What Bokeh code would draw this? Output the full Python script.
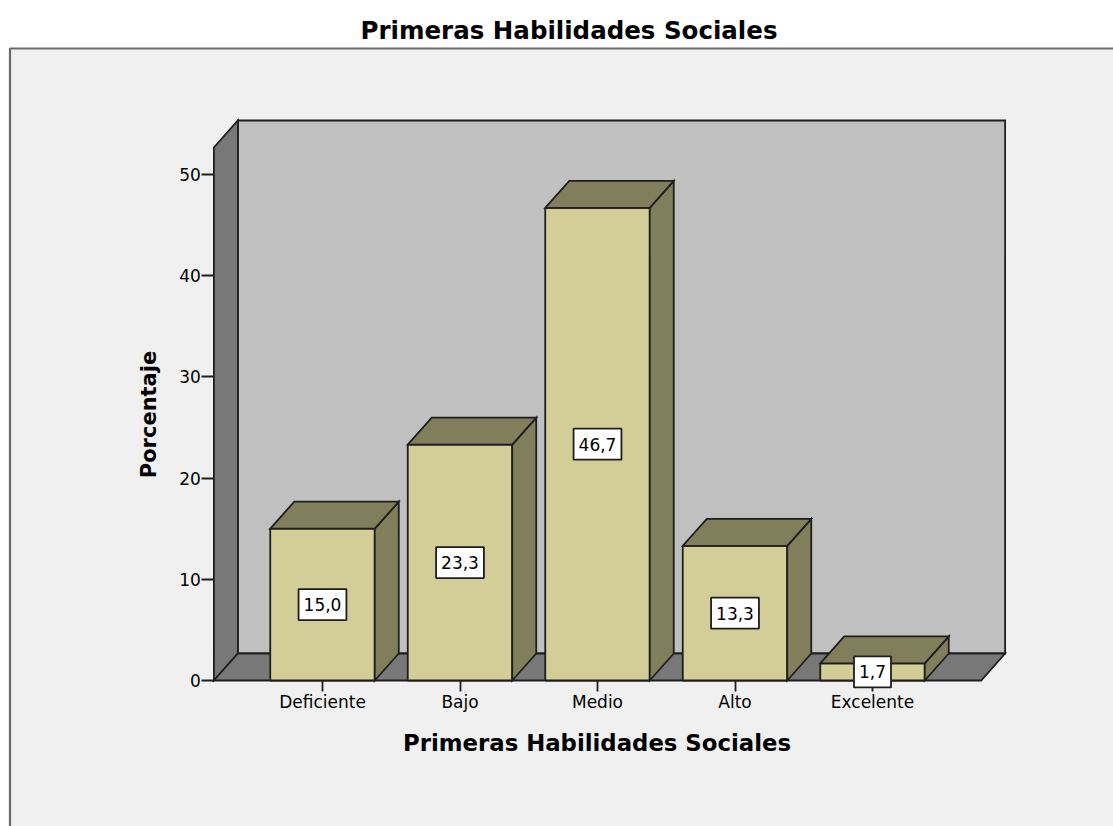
import numpy as np
from bokeh.plotting import figure
from bokeh.models import Range1d, FixedTicker, Label, BoxAnnotation
from bokeh.embed import file_html
from bokeh.resources import INLINE

# ---------------- data ----------------
categories = ["Deficiente", "Bajo", "Medio", "Alto", "Excelente"]
percent = [15.0, 23.3, 46.7, 13.3, 1.7]
y_ticks = [0, 10, 20, 30, 40, 50]
chart_title = "Primeras Habilidades Sociales"
x_title = "Primeras Habilidades Sociales"
y_title = "Porcentaje"

# ---------------- style / layout ----------------
W, H = 1113, 826
FRAME_L, FRAME_B = 0, 0      # space taken by axis panels (if any)
X0_PX, Y0_PX = 322, 680      # page position of first category / zero
SX = 137.5                   # px per category step
SY = 10.12                   # px per percent unit
DEPTH_PX = (24, 27)          # 3D depth offset in px
BAR_W = 0.76
X_PAD = 0.79
Y_AXIS_TOP = 52.67
FONT = "DejaVu Sans"
FRONT = "#d3ce97"
SHADE = "#817f5b"
BACK = "#c0c0c0"
WALL = "#787878"
EDGE = "#1e1e1e"
PANEL = "#f0f0f0"
LW = 1.8

dx = DEPTH_PX[0] / SX
dy = DEPTH_PX[1] / SY
n = len(categories)
xs = list(range(n))
x_left = -X_PAD
x_right = (n - 1) + X_PAD

frame_w = W - FRAME_L
frame_h = H - FRAME_B
x0 = (FRAME_L - X0_PX) / SX
x1 = (W - X0_PX) / SX
y0 = -((H - FRAME_B) - Y0_PX) / SY
y1 = Y0_PX / SY


def sx(px):
    return px - FRAME_L


def sy(py):
    return (H - FRAME_B) - py


p = figure(frame_width=frame_w, frame_height=frame_h,
           x_range=Range1d(x0, x1), y_range=Range1d(y0, y1),
           output_backend="svg", toolbar_location=None,
           min_border_left=FRAME_L, min_border_top=0,
           min_border_right=0, min_border_bottom=FRAME_B)
p.background_fill_color = "white"
p.border_fill_color = PANEL
p.outline_line_color = None
p.xgrid.visible = False
p.ygrid.visible = False

# chart panel (grey box with border)
panel = BoxAnnotation(left=sx(9.5), right=sx(W + 50),
                      top=sy(48), bottom=sy(H + 50),
                      left_units="screen", right_units="screen",
                      top_units="screen", bottom_units="screen",
                      fill_color=PANEL, fill_alpha=1.0,
                      line_color="#6a6a6a", line_alpha=1.0, line_width=2.2,
                      level="underlay")
p.add_layout(panel)

# walls and floor
wall_xs = [
    [x_left + dx, x_right + dx, x_right + dx, x_left + dx],
    [x_left, x_left + dx, x_left + dx, x_left],
    [x_left, x_right, x_right + dx, x_left + dx],
]
wall_ys = [
    [dy, dy, Y_AXIS_TOP + dy, Y_AXIS_TOP + dy],
    [0, dy, Y_AXIS_TOP + dy, Y_AXIS_TOP],
    [0, 0, dy, dy],
]
p.patches(xs=wall_xs, ys=wall_ys, fill_color=[BACK, WALL, WALL],
          line_color=EDGE, line_width=LW, line_join="miter")

# bars
left = [x - BAR_W / 2 for x in xs]
right = [x + BAR_W / 2 for x in xs]
top_xs, top_ys, side_xs, side_ys = [], [], [], []
for l, r, v in zip(left, right, percent):
    top_xs.append([l, r, r + dx, l + dx])
    top_ys.append([v, v, v + dy, v + dy])
    side_xs.append([r, r + dx, r + dx, r])
    side_ys.append([0, dy, v + dy, v])

p.quad(left=left, right=right, bottom=[0] * n, top=percent,
       fill_color=FRONT, line_color=EDGE, line_width=LW)
p.patches(xs=side_xs, ys=side_ys, fill_color=SHADE,
          line_color=EDGE, line_width=LW, line_join="miter")
p.patches(xs=top_xs, ys=top_ys, fill_color=SHADE,
          line_color=EDGE, line_width=LW, line_join="miter")

# value labels
for x, v in zip(xs, percent):
    p.add_layout(Label(x=x, y=v / 2, text=f"{v:.1f}".replace(".", ","),
                       text_font=FONT, text_font_size="17px",
                       text_color="black", text_align="center",
                       text_baseline="middle",
                       background_fill_color="white", background_fill_alpha=1.0,
                       border_line_color=EDGE, border_line_width=LW,
                       padding=(5, 9)))

# axes
p.xaxis.ticker = FixedTicker(ticks=xs)
p.xaxis.major_label_overrides = {i: c for i, c in enumerate(categories)}
p.xaxis.fixed_location = 0
p.yaxis.ticker = FixedTicker(ticks=y_ticks)
p.yaxis.fixed_location = x_left
for ax in (p.xaxis, p.yaxis):
    ax.axis_line_color = None
    ax.minor_tick_line_color = None
    ax.major_tick_in = 0
    ax.major_tick_line_color = EDGE
    ax.major_tick_line_width = LW
    ax.major_label_text_font = FONT
    ax.major_label_text_font_size = "17px"
    ax.major_label_text_color = "black"
p.xaxis.major_tick_out = 11
p.xaxis.major_label_standoff = 0
p.yaxis.major_tick_out = 12
p.yaxis.major_label_standoff = 1

# titles
p.add_layout(Label(x=sx(568.5), y=sy(30.3),
                   x_units="screen", y_units="screen", text=chart_title,
                   text_font=FONT, text_font_style="bold", text_font_size="24.5px",
                   text_align="center", text_baseline="alphabetic",
                   text_color="black"))
p.add_layout(Label(x=sx(596.5), y=sy(742.7),
                   x_units="screen", y_units="screen", text=x_title,
                   text_font=FONT, text_font_style="bold", text_font_size="22.8px",
                   text_align="center", text_baseline="alphabetic",
                   text_color="black"))
p.add_layout(Label(x=sx(148), y=sy(414),
                   x_units="screen", y_units="screen", text=y_title,
                   angle=np.pi / 2,
                   text_font=FONT, text_font_style="bold", text_font_size="21px",
                   text_align="center", text_baseline="alphabetic",
                   text_color="black"))

open("out.html", "w").write(file_html(p, INLINE))
